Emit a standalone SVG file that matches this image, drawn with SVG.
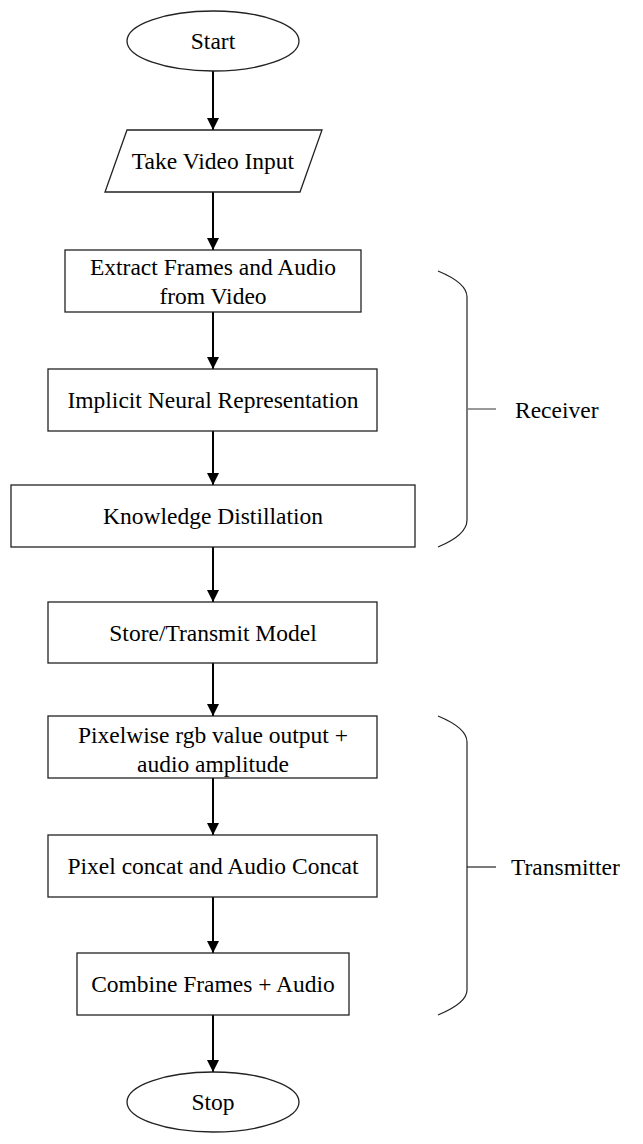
<svg xmlns="http://www.w3.org/2000/svg" width="643" height="1144" viewBox="0 0 643 1144">
<style>
.n{fill:#fff;stroke:#222;stroke-width:1.3}
.t{font-family:"Liberation Serif","Times New Roman",serif;font-size:23.5px;fill:#000;text-anchor:middle}
.l{font-family:"Liberation Serif","Times New Roman",serif;font-size:23.5px;fill:#000}
.c{stroke:#000;stroke-width:2;fill:none}
.b{stroke:#222;stroke-width:1.2;fill:none}
.k{stroke:#777;stroke-width:1.5}
</style>
<defs>
<marker id="ah" markerUnits="userSpaceOnUse" markerWidth="12" markerHeight="12" refX="12" refY="6" orient="auto">
<path d="M0,0 L12,6 L0,12 Z" fill="#000"/>
</marker>
</defs>
<rect width="643" height="1144" fill="#fff"/>
<g id="connectors">
<line class="c" x1="213" y1="71" x2="213" y2="130" marker-end="url(#ah)"/>
<line class="c" x1="213" y1="192" x2="213" y2="250" marker-end="url(#ah)"/>
<line class="c" x1="213" y1="312" x2="213" y2="369" marker-end="url(#ah)"/>
<line class="c" x1="213" y1="431" x2="213" y2="485" marker-end="url(#ah)"/>
<line class="c" x1="213" y1="547" x2="213" y2="602" marker-end="url(#ah)"/>
<line class="c" x1="213" y1="663" x2="213" y2="716" marker-end="url(#ah)"/>
<line class="c" x1="213" y1="778" x2="213" y2="835" marker-end="url(#ah)"/>
<line class="c" x1="213" y1="897" x2="213" y2="953" marker-end="url(#ah)"/>
<line class="c" x1="213" y1="1015" x2="213" y2="1072" marker-end="url(#ah)"/>
</g>
<g id="start">
<ellipse class="n" cx="213" cy="41" rx="86" ry="30"/>
<text class="t" x="213" y="49">Start</text>
</g>
<g id="input">
<polygon class="n" points="127,130 322,130 300,192 105,192"/>
<text class="t" x="213" y="169">Take Video Input</text>
</g>
<g id="extract">
<rect class="n" x="65" y="250" width="296" height="62"/>
<text class="t" x="213" y="275">Extract Frames and Audio</text>
<text class="t" x="213" y="304">from Video</text>
</g>
<g id="inr">
<rect class="n" x="48" y="369" width="329" height="62"/>
<text class="t" x="213" y="408">Implicit Neural Representation</text>
</g>
<g id="kd">
<rect class="n" x="11" y="485" width="404" height="62"/>
<text class="t" x="213" y="524">Knowledge Distillation</text>
</g>
<g id="store">
<rect class="n" x="48" y="602" width="329" height="61"/>
<text class="t" x="213" y="641">Store/Transmit Model</text>
</g>
<g id="pixelwise">
<rect class="n" x="48" y="716" width="329" height="62"/>
<text class="t" x="213" y="743">Pixelwise rgb value output +</text>
<text class="t" x="213" y="772">audio amplitude</text>
</g>
<g id="concat">
<rect class="n" x="48" y="835" width="329" height="62"/>
<text class="t" x="213" y="874">Pixel concat and Audio Concat</text>
</g>
<g id="combine">
<rect class="n" x="77" y="953" width="272" height="62"/>
<text class="t" x="213" y="992">Combine Frames + Audio</text>
</g>
<g id="stop">
<ellipse class="n" cx="213" cy="1102" rx="86" ry="30"/>
<text class="t" x="213" y="1110">Stop</text>
</g>
<g id="receiver">
<path class="b" d="M438,271 Q467,283 467,297 L467,520 Q467,535 438,547"/>
<line class="k" x1="467" y1="409" x2="496" y2="409"/>
<text class="l" x="515" y="418">Receiver</text>
</g>
<g id="transmitter">
<path class="b" d="M438,716 Q467,728 467,742 L467,990 Q467,1003 438,1015"/>
<line class="b" x1="467" y1="867" x2="496" y2="867"/>
<text class="l" x="511" y="875">Transmitter</text>
</g>
</svg>
